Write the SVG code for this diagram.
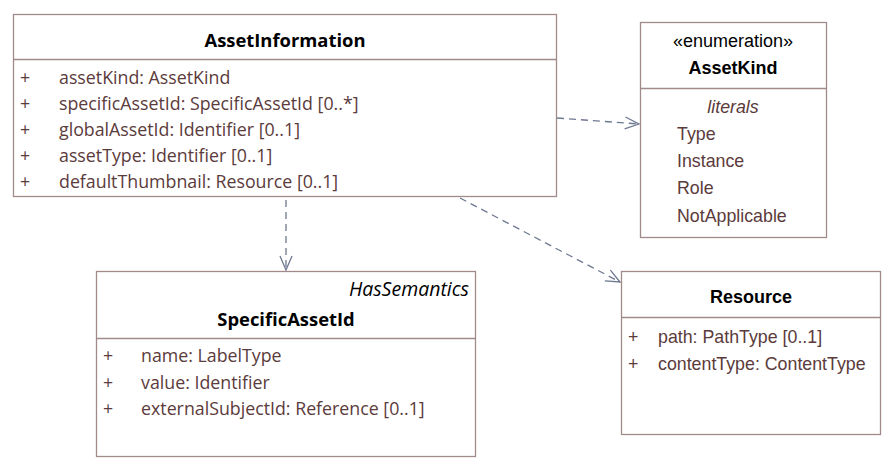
<svg xmlns="http://www.w3.org/2000/svg" width="895" height="470" viewBox="0 0 895 470">
<style>
.box{fill:#fff;stroke:#a08a8a;stroke-width:1.3}
.div{stroke:#a08a8a;stroke-width:1.3}
.c{font-family:"Open Sans","Noto Sans",sans-serif;font-size:17.8px;fill:#5b3b3b}
.cb{font-family:"Open Sans","Noto Sans",sans-serif;font-size:18.4px;font-weight:bold;fill:#000}
.ci{font-family:"Open Sans","Noto Sans",sans-serif;font-size:19.5px;font-style:italic;fill:#000}
.a{font-family:"Liberation Sans",Arial,sans-serif;font-size:17.8px;fill:#5b3b3b}
.ab{font-family:"Liberation Sans",Arial,sans-serif;font-size:18px;font-weight:bold;fill:#000}
.ak{font-family:"Liberation Sans",Arial,sans-serif;font-size:18px;fill:#000}
.conn{stroke:#6e7891;stroke-width:1.3;stroke-dasharray:7,5;fill:none}
</style>
<defs>
<marker id="open" markerWidth="16" markerHeight="14" refX="15" refY="7" orient="auto" markerUnits="userSpaceOnUse">
<path d="M1,1 L15,7 L1,13" fill="none" stroke="#6e7891" stroke-width="1.3"/>
</marker>
</defs>
<g id="connectors">
<line class="conn" x1="557" y1="118" x2="639" y2="124" marker-end="url(#open)"/>
<line class="conn" x1="286" y1="200" x2="286" y2="270" marker-end="url(#open)"/>
<line class="conn" x1="460" y1="198" x2="620" y2="282" marker-end="url(#open)"/>
</g>
<g id="AssetInformation">
<rect class="box" x="13.5" y="14.5" width="543" height="182"/>
<line class="div" x1="13.5" y1="59.5" x2="556.5" y2="59.5"/>
<text class="cb" x="285" y="47" text-anchor="middle">AssetInformation</text>
<text class="c" x="20" y="84">+</text><text class="c" x="59" y="84">assetKind: AssetKind</text>
<text class="c" x="20" y="110">+</text><text class="c" x="59" y="110">specificAssetId: SpecificAssetId [0..*]</text>
<text class="c" x="20" y="136">+</text><text class="c" x="59" y="136">globalAssetId: Identifier [0..1]</text>
<text class="c" x="20" y="162">+</text><text class="c" x="59" y="162">assetType: Identifier [0..1]</text>
<text class="c" x="20" y="188">+</text><text class="c" x="59" y="188">defaultThumbnail: Resource [0..1]</text>
</g>
<g id="AssetKind">
<rect class="box" x="640.5" y="22.5" width="186" height="215"/>
<line class="div" x1="640.5" y1="88.5" x2="826.5" y2="88.5"/>
<text class="ak" x="733" y="47" text-anchor="middle">«enumeration»</text>
<text class="ab" x="733" y="74" text-anchor="middle">AssetKind</text>
<text class="a" x="733" y="113" text-anchor="middle" font-style="italic">literals</text>
<text class="a" x="677" y="140">Type</text>
<text class="a" x="677" y="167">Instance</text>
<text class="a" x="677" y="194">Role</text>
<text class="a" x="677" y="222">NotApplicable</text>
</g>
<g id="SpecificAssetId">
<rect class="box" x="96.5" y="271.5" width="379" height="185"/>
<line class="div" x1="96.5" y1="338.5" x2="475.5" y2="338.5"/>
<text class="ci" x="469" y="296" text-anchor="end">HasSemantics</text>
<text class="cb" x="286" y="326" text-anchor="middle">SpecificAssetId</text>
<text class="c" x="103" y="362">+</text><text class="c" x="141" y="362">name: LabelType</text>
<text class="c" x="103" y="389">+</text><text class="c" x="141" y="389">value: Identifier</text>
<text class="c" x="103" y="415">+</text><text class="c" x="141" y="415">externalSubjectId: Reference [0..1]</text>
</g>
<g id="Resource">
<rect class="box" x="621.5" y="271.5" width="259" height="163"/>
<line class="div" x1="621.5" y1="317.5" x2="880.5" y2="317.5"/>
<text class="ab" x="751" y="303" text-anchor="middle">Resource</text>
<text class="a" x="628" y="343">+</text><text class="a" x="658" y="343">path: PathType [0..1]</text>
<text class="a" x="628" y="370">+</text><text class="a" x="658" y="370">contentType: ContentType</text>
</g>
</svg>
